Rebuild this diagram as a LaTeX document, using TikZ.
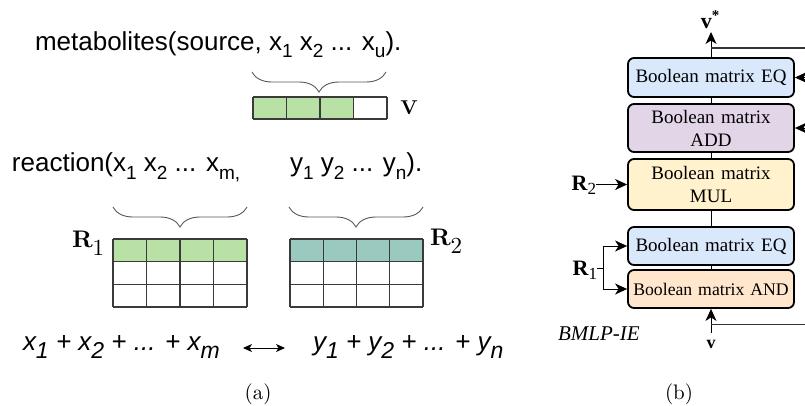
\documentclass[tikz,border=0pt]{standalone}
\usepackage{fontspec}
\usetikzlibrary{arrows.meta,decorations.pathreplacing}
\newfontfamily\arialf{Liberation Sans}
\newfontfamily\timesf{Liberation Serif}
\newfontfamily\cmten{lmroman10-regular}[Extension=.otf, BoldFont=lmroman10-bold]
\definecolor{cellgreen}{HTML}{B9E0A5}
\definecolor{cellteal}{HTML}{9AC9C0}
\definecolor{boxblue}{HTML}{DAE8FC}
\definecolor{boxpurple}{HTML}{E1D5E7}
\definecolor{boxyellow}{HTML}{FFF2CC}
\definecolor{boxorange}{HTML}{FFE6CC}
\definecolor{gridc}{HTML}{3A3A3A}
\newcommand\lsub[3]{\raisebox{-#1pt}{\fontsize{#2}{#2}\selectfont #3}}
\begin{document}
\begin{tikzpicture}[x=1pt,y=-1pt,
  txt/.style={inner sep=0pt, outer sep=0pt, anchor=base west},
  bbox/.style={draw, line width=1.8pt, rounded corners=6pt, minimum width=166pt,
     text width=162pt, align=center, inner sep=0pt,
     font=\timesf\fontsize{19}{23}\selectfont},
  arr/.style={-{Stealth[length=12pt,width=11pt,inset=3.5pt]}, line width=1pt},
  conn/.style={line width=1pt},
  brc/.style={decorate, decoration={brace,mirror,amplitude=20pt}, draw=gray!70!black, line width=0.9pt},
  gline/.style={draw=gridc, line width=1.1pt}]
\useasboundingbox (0,0) rectangle (805,405);

% ---------- (a) ----------
\node[txt] (meta) at (35,50) {\arialf\fontsize{26}{26}\selectfont metabolites(source, x\lsub{7}{19}{1} x\lsub{7}{19}{2} ... x\lsub{7}{19}{u}).};
\draw[brc] (252,72) -- (386,72);
% V vector
\fill[cellgreen] (253,97) rectangle (353.5,119);
\foreach \i in {0,...,4} \draw[gline] (253+\i*33.5,97) -- (253+\i*33.5,119);
\draw[gline] (253,97) -- (387,97);
\draw[gline] (253,119) -- (387,119);
\node[inner sep=0pt] (vlab) at (409,108) {\cmten\fontsize{20}{20}\selectfont\bfseries V};

\node[txt] (react) at (12,171) {\arialf\fontsize{26}{26}\selectfont reaction(x\lsub{8}{19}{1} x\lsub{8}{19}{2} ... x\lsub{8}{19}{m,}};
\node[txt] (prod) at (290,171) {\arialf\fontsize{26}{26}\selectfont y\lsub{8}{19}{1} y\lsub{8}{19}{2} ... y\lsub{8}{19}{n}).};
\draw[brc] (113,207) -- (247,207);
\draw[brc] (289,207) -- (423,207);

% R1 matrix
\fill[cellgreen] (113,239) rectangle (247,262);
\foreach \i in {0,...,4} \draw[gline] (113+\i*33.5,239) -- (113+\i*33.5,307);
\foreach \j in {0,...,3} \draw[gline] (113,239+\j*22.67) -- (247,239+\j*22.67);
% R2 matrix
\fill[cellteal] (290,239) rectangle (423,262);
\foreach \i in {0,...,4} \draw[gline] (290+\i*33.25,239) -- (290+\i*33.25,307);
\foreach \j in {0,...,3} \draw[gline] (290,239+\j*22.67) -- (423,239+\j*22.67);

\node[txt] (rone) at (72,247) {\cmten\fontsize{24}{24}\selectfont\bfseries R\lsub{8}{23}{\mdseries 1}};
\node[txt] (rtwo) at (430,245) {\cmten\fontsize{24}{24}\selectfont\bfseries R\lsub{8}{23}{\mdseries 2}};

\node[txt] (lhs) at (23,350) {\arialf\itshape\fontsize{26}{26}\selectfont x\lsub{8}{23}{1} + x\lsub{8}{23}{2} + ... + x\lsub{8}{23}{m}};
\node[txt] (rhs) at (313,350) {\arialf\itshape\fontsize{26}{26}\selectfont y\lsub{8}{23}{1} + y\lsub{8}{23}{2} + ... + y\lsub{8}{23}{n}};
\coordinate (la) at (243,348);
\coordinate (lb) at (285,348);
\draw[{Stealth[length=9pt,width=8pt,inset=2.5pt]}-{Stealth[length=9pt,width=8pt,inset=2.5pt]}, line width=1pt] (la) -- (lb);

\node (capa) at (258,394) {\cmten\fontsize{21}{21}\selectfont (a)};

% ---------- (b) ----------
\node[bbox, fill=boxblue, minimum height=39pt] (eqa) at (711,77.5) {Boolean matrix EQ};
\node[bbox, fill=boxpurple, minimum height=48pt] (add) at (711,128) {Boolean matrix\\ADD};
\node[bbox, fill=boxyellow, minimum height=51pt] (mul) at (711,184.5) {Boolean matrix\\MUL};
\node[bbox, fill=boxblue, minimum height=38pt] (eqb) at (711,246) {Boolean matrix EQ};
\node[bbox, fill=boxorange, minimum height=38pt, font=\timesf\fontsize{17.7}{21}\selectfont] (andb) at (711,289) {Boolean matrix AND};

\draw[conn] (eqa.south) -- (add.north);
\draw[conn] (add.south) -- (mul.north);
\draw[conn] (mul.south) -- (eqb.north);
\draw[conn] (eqb.south) -- (andb.north);

% top output
\node[inner sep=0pt, anchor=base] (vstar) at (710,28) {\timesf\fontsize{22}{22}\selectfont\bfseries v\raisebox{8pt}{\fontsize{15}{15}\selectfont *}};
\coordinate (vtip) at (711,32);
\draw[arr] (eqa.north) -- (vtip);
\coordinate (ta) at (711,48);
\coordinate (tb) at (805,48);
\draw[draw=gray!40!black, line width=1.4pt] (ta) -- (tb);
% right inputs
\coordinate (ra) at (808,77.5);
\coordinate (rb) at (808,128);
\draw[arr] (ra) -- (eqa.east);
\draw[arr] (rb) -- (add.east);

% R2
\node[txt, anchor=base east] (rtwob) at (596,190) {\timesf\fontsize{22}{22}\selectfont\bfseries R\lsub{4}{17}{\mdseries 2}};
\draw[arr] (rtwob.east |- mul.west) -- (mul.west);
% R1
\node[txt, anchor=base east] (roneb) at (597,275) {\timesf\fontsize{22}{22}\selectfont\bfseries R\lsub{4}{17}{\mdseries 1}};
\coordinate (rj) at (603,268);
\draw[conn] (roneb.east |- rj) -- (rj);
\draw[arr] (rj) |- (eqb.west);
\draw[arr] (rj) |- (andb.west);

% bottom input
\node[inner sep=0pt, anchor=base] (vbot) at (711,348) {\timesf\fontsize{18}{18}\selectfont\bfseries v};
\coordinate (vb) at (711,333);
\draw[arr] (vb) -- (andb.south);
\coordinate (ba) at (711,324);
\coordinate (bb) at (805,324);
\draw[draw=gray!40!black, line width=1pt] (ba) -- (bb);

\node[txt] (bmlp) at (558,340) {\timesf\itshape\fontsize{21}{21}\selectfont BMLP-IE};
\node (capb) at (679,394) {\cmten\fontsize{21}{21}\selectfont (b)};
\end{tikzpicture}
\end{document}
